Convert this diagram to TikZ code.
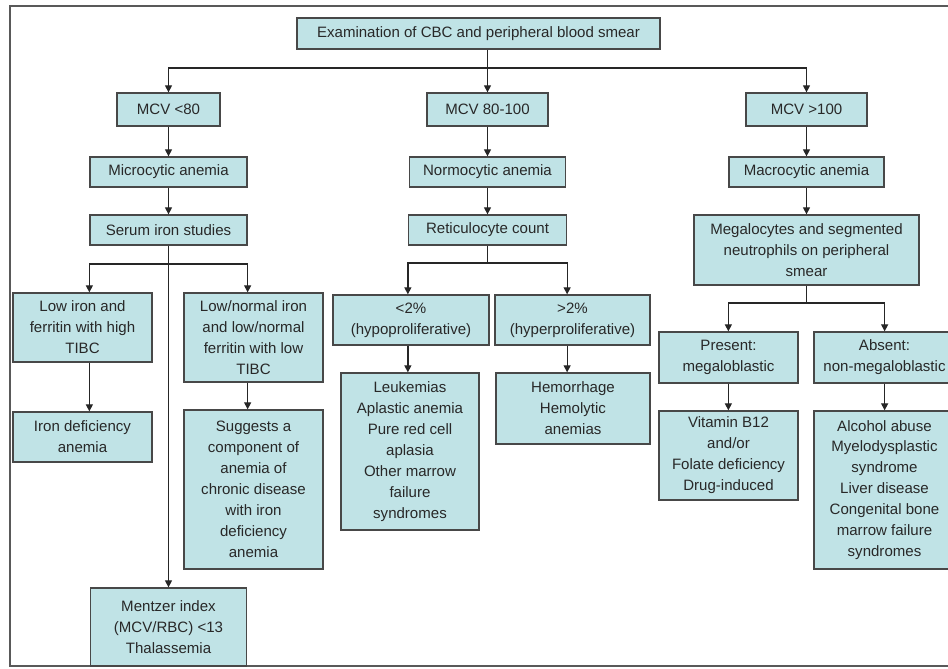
\documentclass[tikz,border=0pt]{standalone}
\usepackage{fontspec}
\setmainfont{Liberation Sans}
\usetikzlibrary{arrows.meta}
\definecolor{boxfill}{RGB}{192,227,230}
\definecolor{boxline}{RGB}{72,72,72}
\definecolor{txtgray}{RGB}{40,40,40}

\begin{document}
\begin{tikzpicture}[x=0.025cm,y=-0.025cm,
  box/.style 2 args={draw=boxline,fill=boxfill,line width=0.9pt,inner sep=0pt,
    align=center,text=txtgray,font=\fontsize{10.7}{14.9}\selectfont,
    minimum width=#1*0.025cm,minimum height=#2*0.025cm},
  ln/.style={draw=black!85,line width=0.9pt},
  arr/.style={ln,-{Triangle[length=5pt,width=5pt]}},
  frame/.style={draw=black!65,line width=1.5pt}]
   \useasboundingbox (0,0) rectangle (948,669);
   \draw[frame] (948,6) -- (10,6) -- (10,666) -- (948,666);

   \node[box={363}{31}] (exam) at (478.5,33.5) {Examination of CBC and peripheral blood smear};
   \node[box={103}{33}] (mcvl) at (168.5,109.5) {MCV <80};
   \node[box={121}{33}] (mcvn) at (487.5,109.5) {MCV 80-100};
   \node[box={121}{33}] (mcvh) at (806.5,109.5) {MCV >100};
   \coordinate (tj) at (487.5,68);
   \draw[ln] (exam.south -| mcvn.north) -- (tj);
   \draw[arr] (tj) -- (mcvn);
   \draw[arr] (tj) -| (mcvl);
   \draw[arr] (tj) -| (mcvh);

   \begin{scope}
    \node[box={157}{30}] (micro) at (168.5,172) {Microcytic anemia};
    \node[box={157}{30}] (serum) at (168.5,230) {Serum iron studies};
    \node[box={139}{69}] (lowiron) at (82.5,327.5) {Low iron and\\ferritin with high\\TIBC};
    \node[box={139}{89}] (lownorm) at (253.5,337.5) {Low/normal iron\\and low/normal\\ferritin with low\\TIBC};
    \node[box={139}{50}] (irondef) at (82.5,437) {Iron deficiency\\anemia};
    \node[box={139}{159}] (suggest) at (253.5,489.5) {Suggests a\\component of\\anemia of\\chronic disease\\with iron\\deficiency\\anemia};
    \node[box={156}{78}] (mentzer) at (168.5,627) {Mentzer index\\(MCV/RBC) <13\\Thalassemia};
    \coordinate (sj) at (168.5,264);
    \draw[arr] (mcvl) -- (micro);
    \draw[arr] (micro) -- (serum);
    \draw[arr] (serum) -- (mentzer);
    \draw[arr] (sj) -| (lowiron.north -| serum.west);
    \draw[arr] (sj) -| (lownorm.north -| serum.east);
    \draw[arr] (lowiron.south -| serum.west) -- (irondef.north -| serum.west);
    \draw[arr] (lownorm.south -| serum.east) -- (suggest.north -| serum.east);
   \end{scope}

   \begin{scope}
    \node[box={156}{30}] (normo) at (487.5,172) {Normocytic anemia};
    \node[box={158}{30}] (retic) at (487.5,230) {Reticulocyte count};
    \node[box={156}{50}] (lowret) at (411,320) {<2\%\\(hypoproliferative)};
    \node[box={155}{50}] (highret) at (572.5,320) {>2\%\\(hyperproliferative)};
    \node[box={138}{157}] (leuk) at (410,451.5) {Leukemias\\Aplastic anemia\\Pure red cell\\aplasia\\Other marrow\\failure\\syndromes};
    \node[box={154}{71}] (hemor) at (573,408.5) {Hemorrhage\\Hemolytic\\anemias};
    \coordinate (rj) at (487.5,263);
    \draw[arr] (mcvn) -- (normo);
    \draw[arr] (normo) -- (retic);
    \draw[ln] (retic) -- (rj);
    \draw[arr] (rj) -| (lowret.north -| retic.west);
    \draw[arr] (rj) -| (highret.north -| retic.east);
    \draw[arr] (lowret.south -| retic.west) -- (leuk.north -| retic.west);
    \draw[arr] (highret.south -| retic.east) -- (hemor.north -| retic.east);
   \end{scope}

   \begin{scope}
    \node[box={155}{30}] (macro) at (806.5,172) {Macrocytic anemia};
    \node[box={225}{70}] (megalo) at (806.5,250) {Megalocytes and segmented\\neutrophils on peripheral\\smear};
    \node[box={139}{51}] (present) at (728.5,357.5) {Present:\\megaloblastic};
    \node[box={141}{51}] (absent) at (884.5,357.5) {Absent:\\non-megaloblastic};
    \node[box={139}{89}] (vitb) at (728.5,455.5) {Vitamin B12\\and/or\\Folate deficiency\\Drug-induced};
    \node[box={141}{158}] (alcohol) at (884.5,490) {Alcohol abuse\\Myelodysplastic\\syndrome\\Liver disease\\Congenital bone\\marrow failure\\syndromes};
    \coordinate (mj) at (806.5,303);
    \draw[arr] (mcvh) -- (macro);
    \draw[arr] (macro) -- (megalo);
    \draw[ln] (megalo) -- (mj);
    \draw[arr] (mj) -| (present.north -| macro.west);
    \draw[arr] (mj) -| (absent.north -| macro.east);
    \draw[arr] (present.south -| macro.west) -- (vitb.north -| macro.west);
    \draw[arr] (absent.south -| macro.east) -- (alcohol.north -| macro.east);
   \end{scope}
\end{tikzpicture}
\end{document}
